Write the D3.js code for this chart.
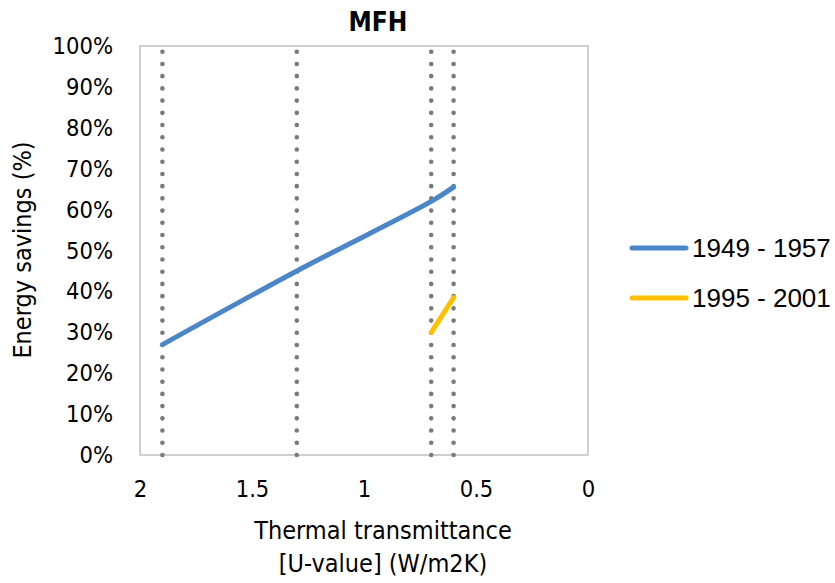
<!DOCTYPE html>
<html>
<head>
<meta charset="utf-8">
<script src="https://cdn.jsdelivr.net/npm/d3@7"></script>
<style>
  body { margin: 0; background: #fff; }
  svg { display: block; }
</style>
</head>
<body>
<svg id="chart" width="835" height="583"></svg>
<script>
const title = "MFH";
const xTicks = [2, 1.5, 1, 0.5, 0];
const yTicks = [0, 10, 20, 30, 40, 50, 60, 70, 80, 90, 100];
const refLines = [1.9, 1.3, 0.7, 0.6];
const seriesNames = ["1949 - 1957", "1995 - 2001"];
const seriesColors = ["#4a86c8", "#ffc000"];
const s1x = [1.9, 1.3, 0.7, 0.6];
const s1y = [27, 45, 62, 65.5];
const s2x = [0.7, 0.6];
const s2y = [30, 38.5];

const svg = d3.select("#chart");
const m = { left: 140, right: 588, top: 46, bottom: 455 };
const x = d3.scaleLinear().domain([2, 0]).range([m.left, m.right]);
const y = d3.scaleLinear().domain([0, 100]).range([m.bottom, m.top]);
const axisFont = "'DejaVu Sans Condensed', 'DejaVu Sans', sans-serif";

// plot border
svg.append("rect")
  .attr("x", m.left).attr("y", m.top)
  .attr("width", m.right - m.left).attr("height", m.bottom - m.top)
  .attr("fill", "none").attr("stroke", "#c0c0c0").attr("stroke-width", 1.5);

// dotted reference lines
const nDots = 33;
refLines.forEach(v => {
  const len = y(0) - y(98.6);
  svg.append("line")
    .attr("x1", x(v)).attr("x2", x(v))
    .attr("y1", y(0)).attr("y2", y(100))
    .attr("stroke", "#7a7a7a").attr("stroke-width", 4.6)
    .attr("stroke-linecap", "round")
    .attr("stroke-dasharray", `0 ${len / nDots}`);
});

// y axis ticks
const yAxis = d3.axisLeft(y).tickValues(yTicks).tickFormat(d => d + "%").tickSize(0).tickPadding(27);
const gy = svg.append("g").attr("transform", `translate(${m.left},0)`).call(yAxis);
gy.select(".domain").remove();
gy.selectAll("text").attr("font-family", axisFont).attr("font-size", 23.5).attr("fill", "#000");

// x axis ticks
const xAxis = d3.axisBottom(x).tickValues(xTicks).tickFormat(d3.format("")).tickSize(0).tickPadding(25);
const gx = svg.append("g").attr("transform", `translate(0,${m.bottom})`).call(xAxis);
gx.select(".domain").remove();
gx.selectAll("text").attr("font-family", axisFont).attr("font-size", 23.5).attr("fill", "#000");

// series
const line = d3.line().x(d => x(d[0])).y(d => y(d[1])).curve(d3.curveCatmullRom.alpha(0.5));
const data1 = s1x.map((v, i) => [v, s1y[i]]);
const data2 = s2x.map((v, i) => [v, s2y[i]]);
[data1, data2].forEach((d, i) => {
  svg.append("path").datum(d)
    .attr("d", line)
    .attr("fill", "none")
    .attr("stroke", seriesColors[i])
    .attr("stroke-width", 5)
    .attr("stroke-linecap", "round")
    .attr("stroke-linejoin", "round");
});

// title
svg.append("text").attr("x", 378).attr("y", 31)
  .attr("text-anchor", "middle")
  .attr("font-family", axisFont).attr("font-weight", "bold").attr("font-size", 26)
  .text(title);

// axis titles
svg.append("text")
  .attr("transform", `translate(31,250) rotate(-90)`)
  .attr("text-anchor", "middle")
  .attr("font-family", axisFont).attr("font-size", 25)
  .text("Energy savings (%)");

svg.append("text").attr("x", 383).attr("y", 539)
  .attr("text-anchor", "middle")
  .attr("font-family", axisFont).attr("font-size", 25)
  .text("Thermal transmittance");
svg.append("text").attr("x", 383).attr("y", 572)
  .attr("text-anchor", "middle")
  .attr("font-family", axisFont).attr("font-size", 25)
  .text("[U-value] (W/m2K)");

// legend
const legY = [248, 298];
seriesNames.forEach((n, i) => {
  svg.append("line")
    .attr("x1", 632).attr("x2", 686)
    .attr("y1", legY[i]).attr("y2", legY[i])
    .attr("stroke", seriesColors[i]).attr("stroke-width", 5)
    .attr("stroke-linecap", "round");
  svg.append("text")
    .attr("x", 692).attr("y", legY[i] + 9)
    .attr("font-family", "'Liberation Sans', Arial, sans-serif")
    .attr("font-size", 26)
    .text(n);
});
</script>
</body>
</html>
